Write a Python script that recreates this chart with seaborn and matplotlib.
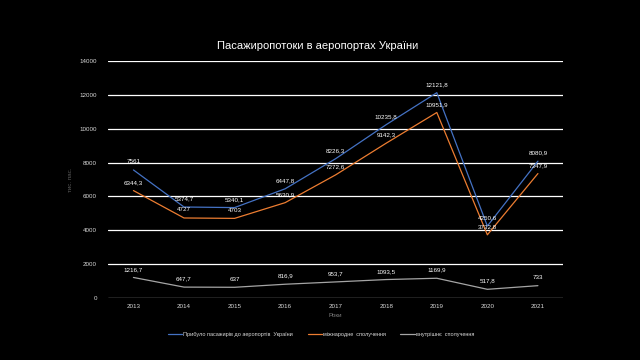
import pandas as pd
import matplotlib.pyplot as plt
import seaborn as sns

# Data (тис. пас.)
years = ["2013", "2014", "2015", "2016", "2017", "2018", "2019", "2020", "2021"]
total = [7561, 5374.7, 5340.1, 6447.8, 8226.3, 10235.8, 12121.8, 4250.6, 8080.9]
international = [6344.3, 4727, 4703, 5630.9, 7272.6, 9142.3, 10951.9, 3732.8, 7347.9]
domestic = [1216.7, 647.7, 637, 816.9, 953.7, 1093.5, 1169.9, 517.8, 733]

series_names = ["Прибуло пасажирів до аеропортів  України",
                "міжнародне  сполучення",
                "внутрішнє  сполучення"]
colors = ["#4472C4", "#ED7D31", "#A5A5A5"]

rows = []
for name, vals in zip(series_names, [total, international, domestic]):
    for i, (y, v) in enumerate(zip(years, vals)):
        rows.append({"idx": i, "year": y, "value": v, "series": name})
df = pd.DataFrame(rows)

sns.set_style("dark")
plt.rcParams['font.family'] = ['Liberation Sans', 'DejaVu Sans']

fig = plt.figure(figsize=(6.4, 3.6), dpi=100, facecolor="black")
ax = fig.add_axes([0.169, 0.172, 0.711, 0.659])
ax.set_facecolor("black")

sns.lineplot(data=df, x="idx", y="value", hue="series", palette=colors,
             hue_order=series_names, linewidth=0.9, ax=ax, legend=True)

# data labels
def fmt(v):
    s = f"{v:g}"
    return s.replace(".", ",")

for name, vals in zip(series_names, [total, international, domestic]):
    for i, v in enumerate(vals):
        ax.annotate(fmt(v), (i, v), xytext=(0, 4), textcoords="offset points",
                    ha="center", va="bottom", fontsize=4.5, color="white")

ax.set_xlim(-0.5, len(years) - 0.5)
ax.set_ylim(0, 14000)
ax.set_yticks(range(0, 14001, 2000))
ax.set_xticks(range(len(years)))
ax.set_xticklabels(years)
ax.tick_params(axis="both", length=0, labelsize=4.5, colors="#D9D9D9")
ax.tick_params(axis="y", pad=8)
ax.tick_params(axis="x", pad=4)
ax.grid(False)
ax.yaxis.grid(True, color="white", linewidth=0.9)
for sp in ax.spines.values():
    sp.set_visible(False)

ax.set_xlabel("Роки", fontsize=4.5, color="#7F7F7F", labelpad=3)
ax.set_ylabel("тис. пас.", fontsize=4.5, color="#595959", labelpad=5)

fig.suptitle("Пасажиропотоки в аеропортах України", x=0.497, y=0.885,
             fontsize=8, color="white")

handles, labels = ax.get_legend_handles_labels()
ax.legend(handles, labels, loc="upper center", bbox_to_anchor=(0.468, -0.12),
          ncol=3, frameon=False, fontsize=4, labelcolor="#D9D9D9",
          handlelength=2.6, handletextpad=0.2, columnspacing=2.6)

fig.savefig("out.png", dpi=100, facecolor="black")
